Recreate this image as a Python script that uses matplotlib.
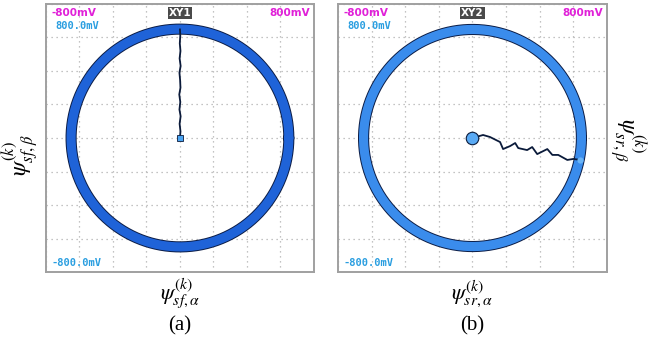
import numpy as np
import matplotlib.pyplot as plt
import matplotlib.patheffects as pe

plt.rcParams['mathtext.fontset'] = 'stix'

# scope settings (mV)
full_scale = 800
div_step = 200

# flux ring radii (mV)
radius_a = 650
radius_b = 648

# stator flux start-up trace, panel (a)
traj_a_x = [0, 3, -2, 4, -3, 2, -4, 3, 1, -3, 4, -2, 3, -1, 2, 0]
traj_a_y = [0, 40, 85, 130, 170, 215, 260, 300, 345, 390, 430, 475, 520, 565, 610, 648]

# rotor flux start-up trace, panel (b)
traj_b_x = [0, 63, 104, 164, 182, 224, 254, 272, 325, 355, 385, 445, 475, 510, 564, 600, 642]
traj_b_y = [0, 18, 6, -24, -66, -48, -30, -60, -72, -54, -96, -66, -101, -101, -131, -125, -131]

fig = plt.figure(figsize=(6.66, 3.41), dpi=100)
ax_a = fig.add_axes([0.069, 0.2023, 0.4024, 0.786])
ax_b = fig.add_axes([0.5075, 0.2023, 0.4039, 0.786])

theta = np.linspace(0, 2 * np.pi, 400)


def scope_panel(ax, name, radius, ring_color):
    ax.set_xlim(-full_scale, full_scale)
    ax.set_ylim(-full_scale, full_scale)
    ticks = np.arange(-full_scale, full_scale + 1, div_step)
    ax.set_xticks(ticks)
    ax.set_yticks(ticks)
    ax.tick_params(length=0, labelbottom=False, labelleft=False)
    ax.grid(True, color='#b0b0b0', linestyle=(0, (1, 3)), linewidth=0.9)
    for s in ax.spines.values():
        s.set_color('#a0a0a0')
        s.set_linewidth(1.4)
    ax.plot(radius * np.cos(theta), radius * np.sin(theta), color=ring_color, lw=6.6,
            solid_capstyle='round', zorder=3,
            path_effects=[pe.Stroke(linewidth=8.0, foreground='#0b1c45'), pe.Normal()])
    ax.text(0.02, 0.985, '-800mV', transform=ax.transAxes, color='#e020d8',
            fontsize=7.5, fontweight='bold', va='top', ha='left', zorder=5)
    ax.text(0.985, 0.985, '800mV', transform=ax.transAxes, color='#e020d8',
            fontsize=7.5, fontweight='bold', va='top', ha='right', zorder=5)
    ax.text(0.5, 0.985, name, transform=ax.transAxes, color='white',
            fontsize=7.5, fontweight='bold', va='top', ha='center', zorder=5,
            bbox=dict(boxstyle='square,pad=0.1', fc='#4a4a4a', ec='none'))
    ax.text(0.035, 0.935, '800.0mV', transform=ax.transAxes, color='#2a9ee0',
            fontsize=7.5, fontweight='bold', va='top', ha='left', family='DejaVu Sans Mono', zorder=5)
    ax.text(0.02, 0.015, '-800.0mV', transform=ax.transAxes, color='#2a9ee0',
            fontsize=7.5, fontweight='bold', va='bottom', ha='left', family='DejaVu Sans Mono', zorder=5)


scope_panel(ax_a, 'XY1', radius_a, '#1f63d8')
scope_panel(ax_b, 'XY2', radius_b, '#3a8cec')

ax_a.plot(traj_a_x, traj_a_y, color='#0a1a3a', lw=1.3, zorder=4)
ax_a.plot(traj_a_x[:1], traj_a_y[:1], marker='s', ms=4.5, color='#4aa4f2',
          mec='#0a1a3a', mew=0.6, zorder=5)

ax_b.plot(traj_b_x, traj_b_y, color='#0a1a3a', lw=1.3, zorder=4)
ax_b.plot(traj_b_x[:1], traj_b_y[:1], marker='o', ms=9, color='#5aaaf4',
          mec='#0a1a3a', mew=0.8, zorder=5)
ax_b.plot(traj_b_x[-1:], traj_b_y[-1:], marker='o', ms=4.5, color='#6ab4f6',
          mec='none', zorder=5)

# axis labels and captions
fig.text(0.27, 0.14, r'$\psi^{(k)}_{sf,\alpha}$', fontsize=16, ha='center', va='center')
fig.text(0.27, 0.043, '(a)', fontsize=15, ha='center', va='center', family='Liberation Serif')
fig.text(0.709, 0.14, r'$\psi^{(k)}_{sr,\alpha}$', fontsize=16, ha='center', va='center')
fig.text(0.709, 0.043, '(b)', fontsize=15, ha='center', va='center', family='Liberation Serif')
fig.text(0.03, 0.545, r'$\psi^{(k)}_{sf,\beta}$', fontsize=17, ha='center', va='center', rotation=90)
fig.text(0.943, 0.59, r'$\psi^{(k)}_{sr,\beta}$', fontsize=17, ha='center', va='center', rotation=-90)

fig.savefig('out.png', dpi=100)
